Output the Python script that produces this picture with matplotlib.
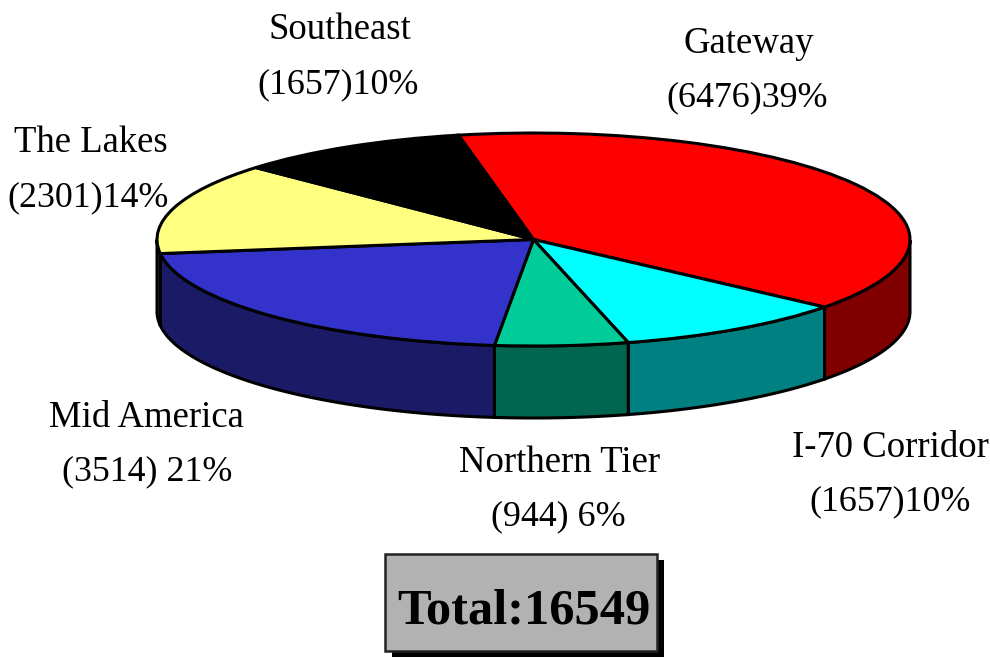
import numpy as np
import matplotlib
matplotlib.use('Agg')
import matplotlib.pyplot as plt
from matplotlib.patches import Rectangle

plt.rcParams['font.family'] = ['Liberation Serif', 'DejaVu Serif']

# Chart values
regions = ['Gateway', 'I-70 Corridor', 'Northern Tier', 'Mid America', 'The Lakes', 'Southeast']
counts = [6476, 1657, 944, 3514, 2301, 1657]
count_labels = ['(6476)39%', '(1657)10%', '(944) 6%', '(3514) 21%', '(2301)14%', '(1657)10%']
total_label = 'Total:16549'

top_colors = ['#FF0000', '#00FFFF', '#00CC99', '#3333CC', '#FFFF80', '#000000']
side_colors = ['#800000', '#008080', '#006650', '#1A1A66', '#808040', '#000000']

# Label centres in pixels (name line, count line)
label_pos = [(749, 44, 747, 98), (890, 448, 890, 502), (560, 463, 558, 517),
             (146, 418, 147, 472), (91, 143, 88, 198), (340, 30, 338, 85)]

W, H = 990, 661
fig = plt.figure(figsize=(W / 100, H / 100), dpi=100)

# Pie axes cover the ellipse of the top face
left, right, top, bottom = 157, 910, 133, 346
ax = fig.add_axes([left / W, 1 - bottom / H, (right - left) / W, (bottom - top) / H])
wedges, _ = ax.pie(counts, colors=top_colors, startangle=101.5, counterclock=False, radius=1,
                   wedgeprops={'edgecolor': 'black', 'linewidth': 2.2, 'zorder': 3})
ax.set_aspect('auto')
ax.set_xlim(-1, 1)
ax.set_ylim(-1, 1)

# Side wall, only the lower half of the rim can be seen
depth = 72 / ((bottom - top) / 2)
for wedge, color in zip(wedges, side_colors):
    angles = np.radians(np.linspace(wedge.theta1, wedge.theta2, 200))
    angles = angles[np.sin(angles) <= 0]
    if len(angles) == 0:
        continue
    xs = np.cos(angles)
    ys = np.sin(angles)
    ax.fill(np.r_[xs, xs[::-1]], np.r_[ys, ys[::-1] - depth], facecolor=color,
            edgecolor='black', linewidth=2.2, zorder=2, clip_on=False)

# Overlay in pixel coordinates for the texts and the total box
over = fig.add_axes([0, 0, 1, 1])
over.set_xlim(0, W)
over.set_ylim(H, 0)
over.axis('off')
over.patch.set_alpha(0)

for name, count, pos in zip(regions, count_labels, label_pos):
    over.text(pos[0], pos[1], name, fontsize=26.5, ha='center', va='center', color='black')
    over.text(pos[2], pos[3], count, fontsize=25.8, ha='center', va='center', color='black')

over.add_patch(Rectangle((392, 560), 272, 97, facecolor='black', edgecolor='none', zorder=1))
over.add_patch(Rectangle((385, 554), 272, 97, facecolor='#B2B2B2', edgecolor='#222222',
                         linewidth=1.8, zorder=2))
over.text(524, 611, total_label, fontsize=36.4, fontweight='bold', ha='center', va='center',
          color='black', zorder=3)

fig.savefig('out.png', dpi=100)
